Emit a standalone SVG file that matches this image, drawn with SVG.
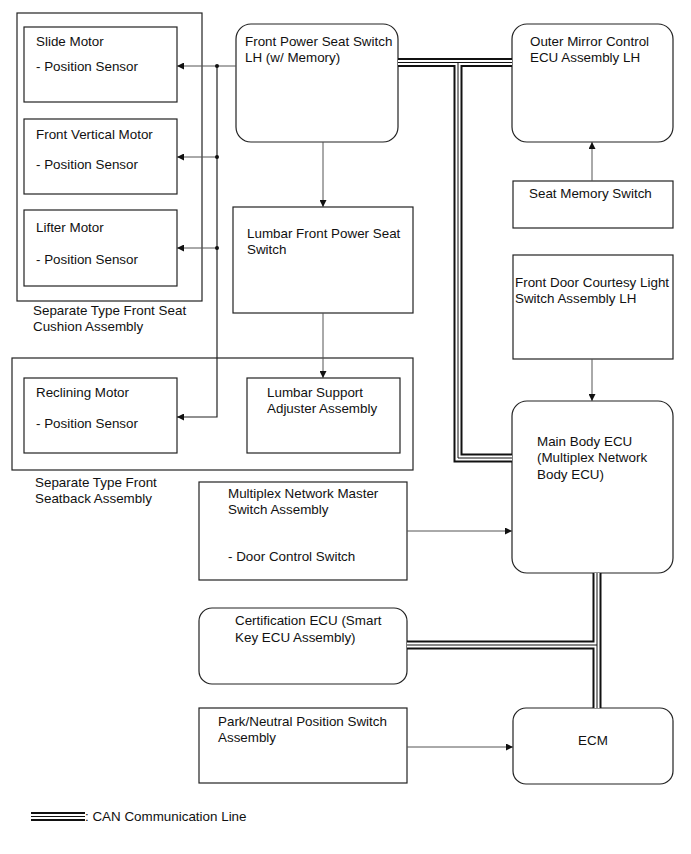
<svg xmlns="http://www.w3.org/2000/svg" width="691" height="854" viewBox="0 0 691 854">
<defs>
<style>
text{font-family:"Liberation Sans",Arial,sans-serif;font-size:13.4px;fill:#111}
.b{fill:#fff;stroke:#222;stroke-width:1.2}
.c{fill:none;stroke:#555;stroke-width:1}
.d{fill:none;stroke:#222;stroke-width:1.2}
.k1{fill:none;stroke:#111;stroke-width:9}
.k2{fill:none;stroke:#fff;stroke-width:5}
.k3{fill:none;stroke:#111;stroke-width:1}
</style>
<marker id="ah" viewBox="0 0 10 10" refX="10" refY="5" markerWidth="9" markerHeight="7" markerUnits="userSpaceOnUse" orient="auto">
<path d="M0,0L10,5L0,10z" fill="#111"/>
</marker>
</defs>
<rect width="691" height="854" fill="#fff"/>

<g id="cushion-assembly">
<rect class="b" x="17" y="13" width="185" height="288"/>
<text x="33" y="315">Separate Type Front Seat</text>
<text x="33" y="331">Cushion Assembly</text>
</g>
<g id="seatback-assembly">
<rect class="b" x="12" y="358" width="401" height="112"/>
<text x="35" y="487">Separate Type Front</text>
<text x="35" y="503">Seatback Assembly</text>
</g>

<g id="slide-motor">
<rect class="b" x="24" y="27" width="153" height="75"/>
<text x="36" y="46">Slide Motor</text>
<text x="36" y="71">- Position Sensor</text>
</g>
<g id="front-vertical-motor">
<rect class="b" x="24" y="119" width="153" height="75"/>
<text x="36" y="139">Front Vertical Motor</text>
<text x="36" y="169">- Position Sensor</text>
</g>
<g id="lifter-motor">
<rect class="b" x="24" y="210" width="153" height="76"/>
<text x="36" y="232">Lifter Motor</text>
<text x="36" y="264">- Position Sensor</text>
</g>
<g id="reclining-motor">
<rect class="b" x="24" y="378" width="153" height="75"/>
<text x="36" y="397">Reclining Motor</text>
<text x="36" y="428">- Position Sensor</text>
</g>
<g id="lumbar-support">
<rect class="b" x="247" y="378" width="153" height="75"/>
<text x="267" y="397">Lumbar Support</text>
<text x="267" y="413">Adjuster Assembly</text>
</g>

<g id="front-power-seat-switch">
<rect class="b" x="236" y="24" width="162" height="118" rx="15"/>
<text x="245" y="46">Front Power Seat Switch</text>
<text x="245" y="62">LH (w/ Memory)</text>
</g>
<g id="lumbar-switch">
<rect class="b" x="233" y="207" width="180" height="106"/>
<text x="247" y="238">Lumbar Front Power Seat</text>
<text x="247" y="254">Switch</text>
</g>
<g id="outer-mirror-ecu">
<rect class="b" x="512" y="24" width="161" height="118" rx="15"/>
<text x="530" y="46">Outer Mirror Control</text>
<text x="530" y="62">ECU Assembly LH</text>
</g>
<g id="seat-memory-switch">
<rect class="b" x="513" y="181" width="160" height="47"/>
<text x="529" y="198">Seat Memory Switch</text>
</g>
<g id="courtesy-switch">
<rect class="b" x="513" y="255" width="160" height="104"/>
<text x="515" y="287">Front Door Courtesy Light</text>
<text x="515" y="303">Switch Assembly LH</text>
</g>
<g id="main-body-ecu">
<rect class="b" x="512" y="401" width="161" height="172" rx="15"/>
<text x="537" y="446">Main Body ECU</text>
<text x="537" y="462">(Multiplex Network</text>
<text x="537" y="479">Body ECU)</text>
</g>
<g id="master-switch">
<rect class="b" x="199" y="482" width="208" height="98"/>
<text x="228" y="498">Multiplex Network Master</text>
<text x="228" y="514">Switch Assembly</text>
<text x="228" y="561">- Door Control Switch</text>
</g>
<g id="certification-ecu">
<rect class="b" x="199" y="608" width="208" height="76" rx="13"/>
<text x="235" y="625">Certification ECU (Smart</text>
<text x="235" y="642">Key ECU Assembly)</text>
</g>
<g id="pn-switch">
<rect class="b" x="199" y="708" width="208" height="75"/>
<text x="218" y="726">Park/Neutral Position Switch</text>
<text x="218" y="742">Assembly</text>
</g>
<g id="ecm">
<rect class="b" x="513" y="708" width="160" height="76" rx="13"/>
<text x="593" y="745" text-anchor="middle">ECM</text>
</g>

<g id="connectors">
<path class="c" d="M236,66H177" marker-end="url(#ah)"/>
<path class="d" d="M217,66V417H177" marker-end="url(#ah)"/>
<path class="c" d="M217,157H177" marker-end="url(#ah)"/>
<path class="c" d="M217,248H177" marker-end="url(#ah)"/>
<circle cx="217" cy="66" r="2" fill="#111"/>
<circle cx="217" cy="157" r="2" fill="#111"/>
<circle cx="217" cy="248" r="2" fill="#111"/>
<path class="c" d="M323,142V207" marker-end="url(#ah)"/>
<path class="c" d="M323,313V378" marker-end="url(#ah)"/>
<path class="c" d="M592,181V142" marker-end="url(#ah)"/>
<path class="c" d="M592,359V401" marker-end="url(#ah)"/>
<path class="c" d="M407,531H512" marker-end="url(#ah)"/>
<path class="c" d="M407,747H513" marker-end="url(#ah)"/>
<g id="can-lines">
<path class="k1" d="M398,62.5H512M458,62.5V458H512M597,573V708M597,645H407M31,816.5H85"/>
<path class="k2" d="M398,62.5H512M458,62.5V458H512M597,573V708M597,645H407M31,816.5H85"/>
<path class="k3" d="M398,62.5H512M458,62.5V458H512M597,573V708M597,645H407M31,816.5H85"/>
</g>
</g>
<text x="85" y="821">: CAN Communication Line</text>
</svg>
